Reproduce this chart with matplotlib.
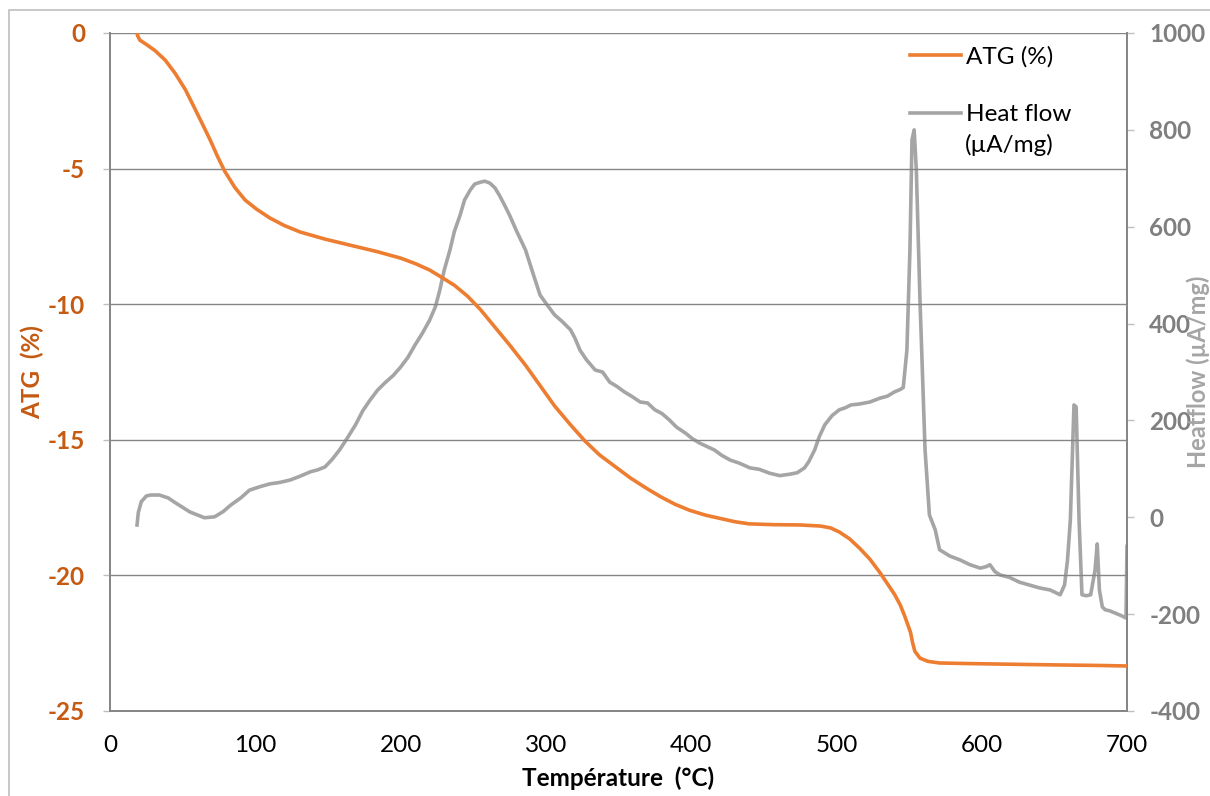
import numpy as np
import matplotlib
matplotlib.use('Agg')
import matplotlib.pyplot as plt
from matplotlib.patches import Rectangle
from matplotlib.lines import Line2D
from matplotlib.font_manager import FontProperties

plt.rcParams['font.family'] = ['Lato', 'DejaVu Sans']
plt.rcParams['axes.unicode_minus'] = False

# ATG curve (temperature in degC, mass loss in %)
atg_T = [18.6, 19.0, 20.5, 25, 31, 38, 45, 52, 58.5, 64,
         69, 74, 79, 86, 93, 101, 110, 120, 131, 148,
         165, 183, 200, 210, 220, 228, 237, 246, 255, 265,
         275, 286, 296, 306, 317, 327, 337, 348, 358, 369,
         379, 389, 399, 410, 420, 430, 440, 457, 475, 489,
         496, 502, 509, 516, 523, 530, 535, 540, 544, 547,
         549, 551, 552.5, 554, 557.5, 563, 571, 590, 613, 650,
         680, 700]
atg_v = [0.0, -0.1, -0.26, -0.42, -0.65, -1.0, -1.5, -2.1, -2.8, -3.4,
         -3.95, -4.55, -5.1, -5.7, -6.16, -6.5, -6.82, -7.1, -7.34, -7.6,
         -7.82, -8.05, -8.3, -8.5, -8.74, -9.0, -9.3, -9.7, -10.2, -10.85,
         -11.5, -12.25, -13.0, -13.75, -14.45, -15.05, -15.56, -16.0, -16.4, -16.78,
         -17.1, -17.38, -17.6, -17.78, -17.9, -18.02, -18.1, -18.13, -18.14, -18.18,
         -18.25, -18.4, -18.65, -19.0, -19.4, -19.9, -20.3, -20.7, -21.1, -21.5,
         -21.8, -22.1, -22.5, -22.8, -23.05, -23.17, -23.23, -23.25, -23.27, -23.3,
         -23.32, -23.34]

# heat flow curve (uA/mg)
hf_T = [18.6, 19.5, 21.5, 25, 28, 34, 40, 45, 55, 65,
        72, 78, 83, 90, 96, 103, 110, 117, 124, 131,
        138, 143, 148, 153, 158, 163, 169, 174, 179, 184,
        189, 195, 200, 205, 210, 215, 220, 224, 227, 230,
        234, 237, 241, 244, 248, 251, 255, 258, 261.5, 265,
        268, 271, 275, 280, 286, 291, 296, 301, 306, 311,
        317, 320, 323.5, 328, 334, 339, 344, 349, 354, 359,
        365, 370, 375, 380, 385, 390, 396, 401, 406, 411,
        416, 421, 427, 433, 440.5, 447, 454, 461, 468, 473,
        478, 481, 485, 488, 492, 497, 502, 506, 510, 516,
        523, 530, 535, 540, 544, 546, 548.5, 550.6, 552, 553.5,
        555, 557.5, 561, 564, 568, 571, 578, 585, 592, 599,
        603, 605.7, 609, 612.6, 619, 626, 633, 640, 647, 654,
        657, 659, 661, 663.5, 665, 667, 669, 672, 675, 678,
        679.5, 681, 683, 685, 688, 692, 696, 699.3, 700]
hf_v = [-16, 10, 32, 44, 46, 46, 40, 30, 11, -1,
        1, 12, 25, 40, 56, 63, 69, 72, 77, 85,
        94, 98, 104, 120, 139, 162, 191, 220, 242, 262,
        277, 293, 310, 330, 356, 380, 407, 435, 469, 510,
        552, 590, 624, 655, 676, 688, 692, 694, 690, 680,
        665, 648, 624, 590, 552, 505, 459, 438, 418, 405,
        387, 370, 345, 325, 304, 300, 279, 270, 259, 250,
        238, 236, 222, 214, 201, 186, 174, 162, 153, 146,
        139, 128, 118, 112, 102, 99, 91, 86, 89, 92,
        102, 115, 139, 165, 191, 210, 222, 226, 232, 234,
        238, 246, 250, 259, 264, 268, 345, 552, 779, 800,
        717, 449, 139, 5, -26, -67, -80, -88, -98, -105,
        -102, -98, -112, -119, -124, -134, -140, -146, -150, -160,
        -140, -90, -6, 232, 228, -6, -160, -162, -160, -109,
        -55, -150, -185, -191, -193, -198, -203, -208, -60]

atg_ticks = [-25, -20, -15, -10, -5, 0]
hf_ticks = [-400, -200, 0, 200, 400, 600, 800, 1000]

orange = '#ED7D31'
gray = '#A5A5A5'
grid_c = '#868686'

fig = plt.figure(figsize=(12.1, 7.96), dpi=100)
fig.patches.append(Rectangle((9/1210, -0.1), 1.2, 1 - 10/796 + 0.1,
                             transform=fig.transFigure, fill=False,
                             edgecolor='#BFBFBF', lw=1.2))

ax1 = fig.add_axes([110/1210, 1-711/796, (1127-110)/1210, (711-33)/796])
ax2 = ax1.twinx()

ax1.plot(atg_T, atg_v, color=orange, lw=2.6, zorder=3)
ax2.plot(hf_T, hf_v, color=gray, lw=2.6)

ax1.set_xlim(0, 700)
ax1.set_ylim(-25, 0)
ax2.set_ylim(-400, 1000)
ax1.set_xticks(np.arange(0, 701, 100))

ax1.yaxis.grid(True, color=grid_c, lw=1)
ax1.set_axisbelow(True)
ax1.set_zorder(ax2.get_zorder() + 1)
ax1.patch.set_visible(False)

for ax in (ax1, ax2):
    ax.spines['top'].set_visible(False)
    for s in ('left', 'right', 'bottom'):
        ax.spines[s].set_color(grid_c)
        ax.spines[s].set_linewidth(1.3)

ax1.tick_params(axis='x', length=0, pad=17, labelsize=17.5, labelcolor='black')
ax1.tick_params(axis='y', length=5, color='#BFBFBF', width=1, pad=13)
ax2.tick_params(axis='y', length=5, color='#BFBFBF', width=1, pad=11)

bold = FontProperties(family=['Lato', 'DejaVu Sans'], weight='bold', size=17.5)
ax1.set_yticks(atg_ticks, labels=[str(v) for v in atg_ticks],
               fontproperties=bold, color='#C55A11')
ax2.set_yticks(hf_ticks, labels=[str(v) for v in hf_ticks],
               fontproperties=bold, color='#7F7F7F')

ax1.set_xlabel('Température  (°C)', fontsize=17.5, fontweight='bold')
ax1.xaxis.set_label_coords(0.5, -67 / 678)
ax1.xaxis.label.set_va('center')
ax1.set_ylabel('ATG  (%)', fontsize=17.5, fontweight='bold', color='#C55A11')
ax1.yaxis.set_label_coords(-78/1017, 0.5)
ax1.yaxis.label.set_va('center')
ax2.set_ylabel('Heatflow (µA/mg)', fontsize=17, fontweight='bold', color='#A5A5A5')
ax2.yaxis.set_label_coords(1 + 71/1017, 0.5)
ax2.yaxis.label.set_va('center')

handles = [Line2D([], [], color=orange, lw=2.6), Line2D([], [], color=gray, lw=2.6)]
ax1.legend(handles, ['ATG (%)', 'Heat flow'], loc='upper left',
           bbox_to_anchor=(790/1017, 0.995), frameon=False, fontsize=17.5,
           handlelength=2.1, handletextpad=0.2, labelspacing=1.5, borderaxespad=0)
fig.text(965/1210, 1 - 145/796, '(µA/mg)', fontsize=17.5, va='center', ha='left')

fig.savefig('out.png', dpi=100)
